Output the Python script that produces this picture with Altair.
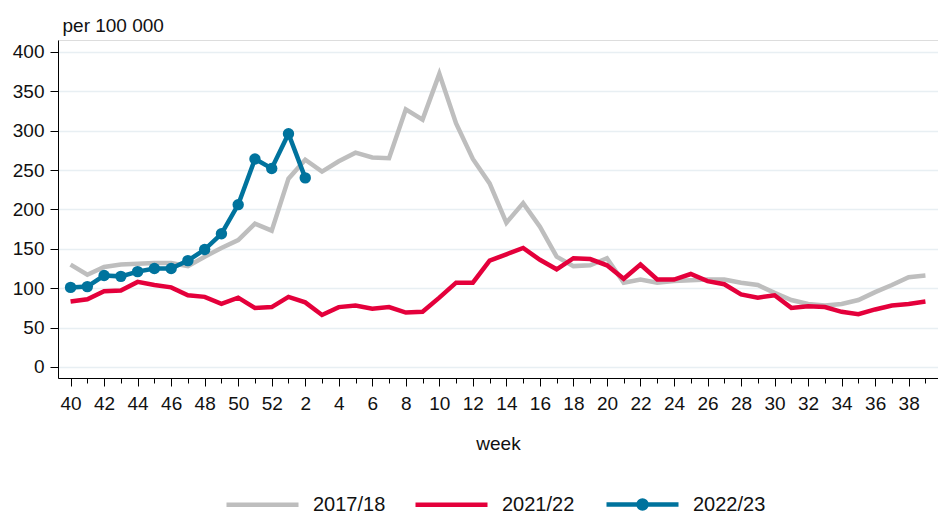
import altair as alt
import pandas as pd

weeks = list(range(40, 53)) + list(range(1, 40))
seasons = ["2017/18", "2021/22", "2022/23"]
colors = ["#bebebe", "#e4003b", "#00739d"]

s2017 = [130, 117, 127, 130, 131, 132, 132, 128, 140, 151, 161, 182, 173,
         239, 263, 248, 261, 272, 266, 265, 327, 314, 372, 309, 264, 233,
         183, 208, 178, 140, 128, 129, 138, 107, 111, 107, 109, 110, 111,
         111, 107, 104, 94, 85, 80, 78, 80, 85, 95, 104, 114, 116]
s2021 = [83, 86, 96, 97, 108, 104, 101, 91, 89, 80, 88, 75, 76,
         89, 82, 66, 76, 78, 74, 76, 69, 70, 88, 107, 107, 135,
         143, 151, 136, 124, 138, 137, 129, 112, 130, 111, 111, 118, 109,
         105, 92, 88, 91, 75, 77, 76, 70, 67, 73, 78, 80, 83]
s2022 = [101, 102, 116, 115, 121, 125, 125, 135, 149, 169, 206, 264, 252,
         296, 240]

rows = []
for name, vals in zip(seasons, [s2017, s2021, s2022]):
    for i, v in enumerate(vals):
        rows.append({"idx": i, "week": weeks[i], "season": name, "value": v})
df = pd.DataFrame(rows)

FONT = "Arial"
TXT = "#111111"

x_enc = alt.X(
    "idx:Q",
    scale=alt.Scale(domain=[-0.75, 51.75], nice=False, zero=False),
    axis=alt.Axis(
        values=list(range(52)),
        labelExpr="datum.value % 2 === 0 ? (datum.value < 13 ? datum.value + 40 : datum.value - 12) : ''",
        tickSize={"condition": {"test": "datum.value % 2 === 0", "value": 8}, "value": 5},
        labelPadding=8,
        labelFontSize=19,
        labelColor=TXT,
        labelFont=FONT,
        labelOverlap=False,
        labelBound=False,
        labelFlush=False,
        title="week",
        titleFont=FONT,
        titleFontSize=19,
        titleFontWeight="normal",
        titleColor=TXT,
        titlePadding=21,
        grid=False,
        domainColor="#000000",
        tickColor="#000000",
    ),
)

y_enc = alt.Y(
    "value:Q",
    scale=alt.Scale(domain=[-14, 415], nice=False, zero=False),
    axis=alt.Axis(
        values=[0, 50, 100, 150, 200, 250, 300, 350, 400],
        tickSize=8,
        labelPadding=6,
        labelFontSize=19,
        labelFont=FONT,
        labelColor=TXT,
        labelOverlap=False,
        title="per 100 000",
        titleFont=FONT,
        titleFontSize=19,
        titleFontWeight="normal",
        titleColor=TXT,
        titleAngle=0,
        titleAlign="left",
        titleBaseline="alphabetic",
        titleX=4,
        titleY=-9,
        gridColor="#e8eff3",
        gridWidth=1.5,
        domainColor="#000000",
        tickColor="#000000",
    ),
)

lines = alt.Chart(df).mark_line(strokeWidth=4.5).encode(
    x=x_enc,
    y=y_enc,
    color=alt.Color(
        "season:N",
        scale=alt.Scale(domain=seasons, range=colors),
        sort=seasons,
        legend=alt.Legend(
            orient="none",
            legendX=166,
            legendY=426,
            direction="horizontal",
            values=seasons[:2],
            title=None,
            symbolType="stroke",
            symbolSize=5184,
            symbolStrokeWidth=4.5,
            labelFontSize=20,
            labelFont=FONT,
            labelColor=TXT,
            labelOffset=12,
            columnPadding=20,
            padding=0,
        ),
    ),
    detail="season:N",
)

blue_path = "M-1,0L1,0M-0.11,0A0.11,0.11,0,1,1,0.11,0A0.11,0.11,0,1,1,-0.11,0Z"

points = alt.Chart(df[df["season"] == "2022/23"]).mark_point(
    filled=True, size=130, opacity=1
).encode(
    x=x_enc,
    y=y_enc,
    fill=alt.Fill(
        "season:N",
        scale=alt.Scale(domain=seasons[2:], range=colors[2:]),
        legend=alt.Legend(
            orient="none",
            legendX=546,
            legendY=426,
            direction="horizontal",
            title=None,
            symbolType=blue_path,
            symbolSize=5184,
            symbolStrokeWidth=4.5,
            symbolStrokeColor=colors[2],
            symbolFillColor=colors[2],
            symbolOpacity=1,
            labelFontSize=20,
            labelFont=FONT,
            labelColor=TXT,
            labelOffset=12,
            padding=0,
        ),
    ),
)

chart = (lines + points).properties(
    width=880,
    height=338,
    padding={"left": 50, "top": 32, "right": 0, "bottom": 140},
    autosize="none",
).configure_view(stroke=None).configure(font=FONT).configure_axis(labelOverlap=False)

chart.save("out.html", embed_options={"renderer": "svg", "actions": False})
